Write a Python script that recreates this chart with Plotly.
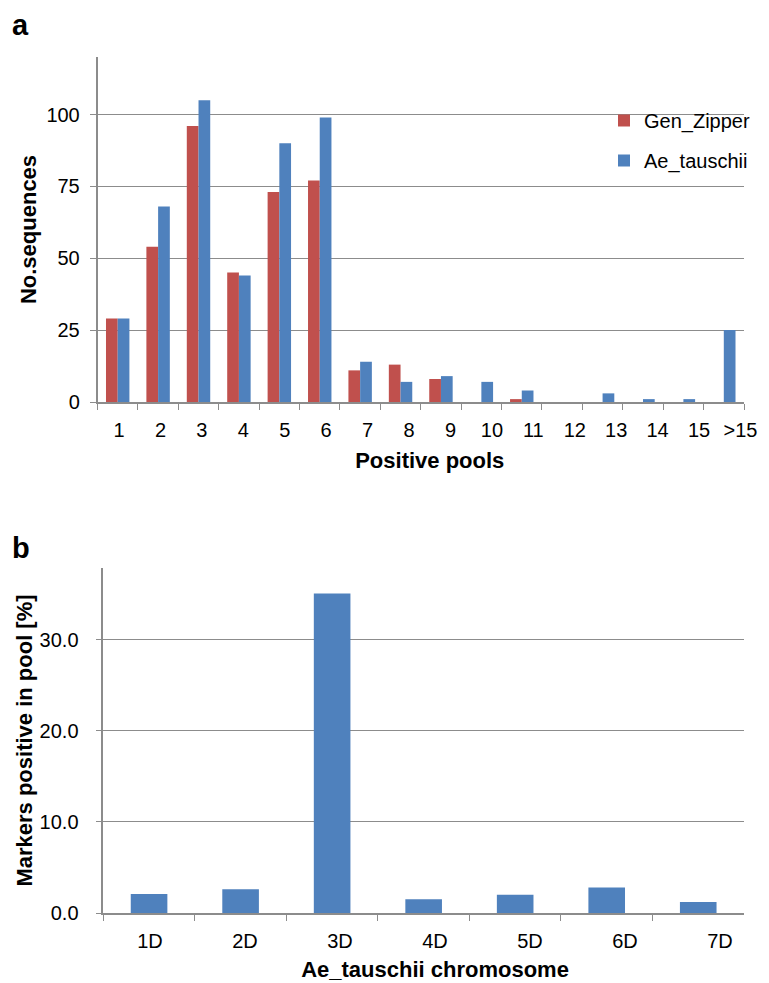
import plotly.graph_objects as go

# ---- data ----
pools = ["1", "2", "3", "4", "5", "6", "7", "8", "9", "10", "11", "12", "13", "14", "15", ">15"]
gen_zipper = [29, 54, 96, 45, 73, 77, 11, 13, 8, 0, 1, 0, 0, 0, 0, 0]
ae_tauschii = [29, 68, 105, 44, 90, 99, 14, 7, 9, 7, 4, 0, 3, 1, 1, 25]

chromosomes = ["1D", "2D", "3D", "4D", "5D", "6D", "7D"]
markers_pct = [2.1, 2.6, 35.1, 1.5, 2.0, 2.8, 1.2]

top_yticks = [0, 25, 50, 75, 100]
bot_yticks = [0, 10, 20, 30]

RED = "#C0504D"
BLUE = "#4F81BD"
GRID = "#8c8c8c"
FONT = "Liberation Sans, Arial, Helvetica, sans-serif"
TICK_FS = 20
TITLE_FS = 22

W, H = 769, 983
OFF = 8  # page body margin: figure is drawn 8px right/down in the window


def px(xw):
    return (xw - OFF) / W


def py(yw):
    return 1 - (yw - OFF) / H


fig = go.Figure()
fig.add_trace(go.Bar(x=pools, y=gen_zipper, name="Gen_Zipper", marker_color=RED,
                     marker_line_width=0, xaxis="x", yaxis="y", legendgroup="g1"))
fig.add_trace(go.Bar(x=pools, y=ae_tauschii, name="Ae_tauschii", marker_color=BLUE,
                     marker_line_width=0, xaxis="x", yaxis="y", legendgroup="g2"))
fig.add_trace(go.Bar(x=chromosomes, y=markers_pct, name="markers", marker_color=BLUE,
                     marker_line_width=0, width=0.4, showlegend=False,
                     xaxis="x2", yaxis="y2"))
# empty carriers so that the tick-label axes are drawn
fig.add_trace(go.Scatter(x=list(range(len(pools))), y=[None] * len(pools), mode="markers",
                         showlegend=False, hoverinfo="skip", xaxis="x3", yaxis="y3"))
fig.add_trace(go.Scatter(x=list(range(len(chromosomes))), y=[None] * len(chromosomes),
                         mode="markers", showlegend=False, hoverinfo="skip",
                         xaxis="x4", yaxis="y4"))

line_common = dict(showline=True, linecolor=GRID, linewidth=1.5, ticks="outside",
                   tickcolor=GRID, ticklen=6, tickwidth=1.2, automargin=False,
                   tickfont=dict(size=TICK_FS, color="black", family=FONT))
label_common = dict(showline=False, ticks="", showgrid=False, zeroline=False,
                    automargin=False, ticklabelstandoff=14,
                    tickfont=dict(size=TICK_FS, color="black", family=FONT))

TOP_Y = [py(402), py(57)]
BOT_Y = [py(913), py(568)]

fig.update_layout(
    width=W, height=H,
    margin=dict(l=0, r=0, t=0, b=0),
    paper_bgcolor="white", plot_bgcolor="rgba(0,0,0,0)",
    font=dict(family=FONT, color="black"),
    barmode="group", bargap=0.42, bargroupgap=0,
    # panel a: bar axis (ticks at category boundaries) + label axis
    xaxis=dict(domain=[px(97.5), px(744)], anchor="y", type="category",
               tickson="boundaries", showgrid=False, showticklabels=False,
               **line_common),
    yaxis=dict(domain=TOP_Y, anchor="x", range=[0, 120],
               tickvals=top_yticks, showgrid=True, gridcolor=GRID, gridwidth=1.2,
               zeroline=False, ticklabelstandoff=6,
               title=dict(text="<b>No.sequences</b>", font=dict(size=TITLE_FS), standoff=4),
               **line_common),
    xaxis3=dict(domain=[px(98.3), px(761.2)], anchor="y3", type="linear",
                range=[-0.5, len(pools) - 0.5],
                tickvals=list(range(len(pools))), ticktext=pools,
                title=dict(text="<b>Positive pools</b>", font=dict(size=TITLE_FS), standoff=12),
                **label_common),
    yaxis3=dict(domain=TOP_Y, anchor="x3", range=[0, 1], visible=False),
    # panel b
    xaxis2=dict(domain=[px(103.3), px(744)], anchor="y2", type="category",
                tickson="boundaries", showgrid=False, showticklabels=False,
                **line_common),
    yaxis2=dict(domain=BOT_Y, anchor="x2", range=[0, 37.9],
                tickvals=bot_yticks, tickformat=".1f", showgrid=True, gridcolor=GRID,
                gridwidth=1.2, zeroline=False, ticklabelstandoff=13,
                title=dict(text="<b>Markers positive in pool [%]</b>", font=dict(size=TITLE_FS), standoff=1),
                **line_common),
    xaxis4=dict(domain=[px(102.5), px(767.5)], anchor="y4", type="linear",
                range=[-0.5, len(chromosomes) - 0.5],
                tickvals=list(range(len(chromosomes))), ticktext=chromosomes,
                title=dict(text="<b>Ae_tauschii chromosome</b>", font=dict(size=TITLE_FS), standoff=10),
                **label_common),
    yaxis4=dict(domain=BOT_Y, anchor="x4", range=[0, 1], visible=False),
    legend=dict(x=px(604), y=py(101), xanchor="left", yanchor="top",
                font=dict(size=20, color="black", family=FONT),
                bgcolor="rgba(0,0,0,0)", tracegroupgap=11, itemwidth=30),
    annotations=[
        dict(text="<b>a</b>", x=px(10), y=py(25), xref="paper", yref="paper",
             xanchor="left", yanchor="middle", showarrow=False, font=dict(size=29)),
        dict(text="<b>b</b>", x=px(10), y=py(548), xref="paper", yref="paper",
             xanchor="left", yanchor="middle", showarrow=False, font=dict(size=29)),
    ],
)

fig.write_html("out.html")
